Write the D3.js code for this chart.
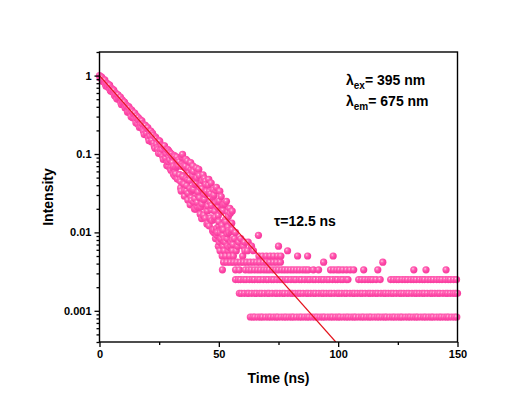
<!DOCTYPE html>
<html><head><meta charset="utf-8">
<script src="https://cdn.jsdelivr.net/npm/d3@7"></script>
<style>
body{margin:0;background:#fff}
svg{display:block}
text{font-family:"Liberation Sans",Arial,sans-serif;font-weight:bold;fill:#000}
</style>
</head><body><svg id="c" width="521" height="401"></svg>
<script>
// ---------- data ----------
const xTicks = [0, 50, 100, 150];
const xMinorTicks = [25, 75, 125];
const yTicks = [1, 0.1, 0.01, 0.001];
const yTickLabels = ["1", "0.1", "0.01", "0.001"];
const xTitle = "Time (ns)";
const yTitle = "Intensity";
const tauText = "\u03C4=12.5 ns";

// decay part (ns, normalized intensity)
const decayTime = [0,0.5,1,1.5,2,2.5,3,3.5,4,4.5,5,5.5,6,6.5,7,7.5,8,8.5,9,9.5,10,10.5,11,11.5,12,12.5,13,13.5,14,14.5,15,15.5,16,16.5,17,17.5,18,18.5,19,19.5,20,20.5,21,21.5,22,22.5,23,23.5,24,24.5,25,25.5,26,26.5,27,27.5,28,28.5,29,29.5,30,30.5,31,31.5,32,32.5,33,33.5,34,34.5,35,35.5,36,36.5,37,37.5,38,38.5,39,39.5,40,40.5,41,41.5,42,42.5,43,43.5,44,44.5,45,45.5,46,46.5,47,47.5,48,48.5,49,49.5,50];
const decayIntensity = [1.000,0.939,0.945,0.847,0.882,0.773,0.796,0.739,0.760,0.651,0.686,0.622,0.648,0.548,0.571,0.568,0.498,0.519,0.444,0.490,0.439,0.457,0.387,0.403,0.345,0.385,0.338,0.364,0.291,0.321,0.281,0.306,0.242,0.267,0.275,0.220,0.242,0.194,0.234,0.196,0.211,0.161,0.182,0.196,0.150,0.173,0.126,0.164,0.134,0.1145,0.148,0.113,0.128,0.0932,0.126,0.0943,0.1017,0.0776,0.110,0.0842,0.0673,0.0934,0.0697,0.0924,0.0560,0.0693,0.0801,0.0545,0.0445,0.0694,0.0530,0.0414,0.0659,0.0340,0.0473,0.0572,0.0363,0.0277,0.0531,0.0353,0.0269,0.0420,0.0212,0.0580,0.0276,0.0211,0.0360,0.0162,0.0264,0.0450,0.0193,0.0132,0.0330,0.0153,0.0194,0.0107,0.0300,0.0157,0.0112,0.0209,0.0121];

// intermediate channels, early decay
const earlyTime = [0.25,0.75,1.25,1.75,2.25,2.75,3.25,3.75,4.25,4.75,5.25,5.75,6.25,6.75,7.25,7.75,8.25,8.75,9.25,9.75,10.25,10.75,11.25,11.75,12.25,12.75,13.25,13.75,14.25,14.75,15.25,15.75,16.25,16.75,17.25,17.75,18.25,18.75,19.25,19.75,20.25,20.75,21.25,21.75,22.25,22.75,23.25,23.75,24.25,24.75,25.25,25.75,26.25,26.75,27.25,27.75];
const earlyIntensity = [0.936,0.964,0.845,0.870,0.875,0.732,0.789,0.707,0.754,0.631,0.657,0.661,0.566,0.596,0.505,0.570,0.505,0.532,0.425,0.458,0.461,0.386,0.421,0.340,0.402,0.344,0.298,0.348,0.292,0.333,0.251,0.284,0.292,0.218,0.240,0.265,0.202,0.177,0.230,0.184,0.217,0.148,0.170,0.143,0.183,0.138,0.118,0.157,0.120,0.102,0.145,0.101,0.114,0.0852,0.127,0.0883];

// intermediate channels, late decay (two interleaved sets)
const lateTimeA = [28.2,28.6,29.0,29.4,29.8,30.2,30.6,31.0,31.4,31.8,32.2,32.6,33.0,33.4,33.8,34.2,34.6,35.0,35.4,35.8,36.2,36.6,37.0,37.4,37.8,38.2,38.6,39.0,39.4,39.8,40.2,40.6,41.0,41.4,41.8,42.2,42.6,43.0,43.4,43.8,44.2,44.6,45.0,45.4,45.8,46.2,46.6,47.0,47.4,47.8,48.2,48.6,49.0,49.4,49.8,50.2,50.6,51.0,51.4,51.8,52.2,52.6,53.0,53.4,53.8,54.2,54.6,55.0,55.4,55.8];
const lateIntensityA = [0.0713,0.114,0.0786,0.105,0.0645,0.100,0.0779,0.0552,0.0957,0.0589,0.0875,0.0479,0.0714,0.0795,0.0468,0.0337,0.0911,0.0517,0.0707,0.0342,0.0856,0.0396,0.0259,0.0663,0.0462,0.0777,0.0255,0.0354,0.0599,0.0199,0.0441,0.0661,0.0241,0.0328,0.0530,0.0171,0.0397,0.0231,0.0544,0.0166,0.0306,0.0409,0.0128,0.0217,0.0474,0.0149,0.0312,0.0221,0.0104,0.0349,0.0148,0.0236,0.0376,0.0100,0.0164,0.0252,0.0105,0.0287,0.0123,0.0191,0.00770,0.0231,0.0137,0.00868,0.0182,0.0105,0.0203,0.00677,0.0131,0.00805];
const lateTimeB = [28.4,28.8,29.2,29.6,30.0,30.4,30.8,31.2,31.6,32.0,32.4,32.8,33.2,33.6,34.0,34.4,34.8,35.2,35.6,36.0,36.4,36.8,37.2,37.6,38.0,38.4,38.8,39.2,39.6,40.0,40.4,40.8,41.2,41.6,42.0,42.4,42.8,43.2,43.6,44.0,44.4,44.8,45.2,45.6,46.0,46.4,46.8,47.2,47.6,48.0,48.4,48.8,49.2,49.6,50.0,50.4,50.8,51.2,51.6,52.0,52.4,52.8,53.2,53.6,54.0,54.4,54.8,55.2,55.6,56.0];
const lateIntensityB = [0.113,0.0699,0.0919,0.103,0.0617,0.0923,0.0664,0.0948,0.0519,0.0680,0.0914,0.0479,0.0842,0.0544,0.0369,0.0734,0.0989,0.0419,0.0290,0.0701,0.0490,0.0817,0.0316,0.0534,0.0225,0.0639,0.0337,0.0703,0.0244,0.0408,0.0198,0.0497,0.0303,0.0639,0.0208,0.0370,0.0150,0.0458,0.0260,0.0488,0.0152,0.0334,0.0188,0.0403,0.0121,0.0244,0.0427,0.0142,0.0284,0.0108,0.0187,0.0343,0.0113,0.0246,0.0137,0.0336,0.00826,0.0183,0.0106,0.0226,0.00831,0.0146,0.0249,0.00959,0.0160,0.00645,0.0175,0.0103,0.0187,0.00701];

// background region: discrete count levels and the times where points sit on them
const floorLevels = [0.000833,0.00167,0.0025,0.00333,0.00417,0.005,0.00583,0.00667,0.0075,0.00833,0.00917,0.0100,0.0108,0.0117];
const floorTimes = [
 [63.2,64.3,65.1,66.4,67.5,68.3,69.6,70.8,71.7,72.9,74.0,74.8,76.1,77.3,78.2,79.4,80.5,81.3,82.6,83.8,84.7,85.9,87.0,87.8,89.1,90.3,91.2,92.4,93.5,94.3,95.6,96.8,97.7,98.9,100.0,100.8,102.1,103.3,104.2,105.4,106.5,107.3,108.6,109.8,110.7,111.9,113.0,113.8,115.1,116.3,117.2,118.4,119.5,120.3,121.6,122.8,123.7,124.9,126.0,126.8,128.1,129.3,130.2,131.4,132.5,133.3,134.6,135.8,136.7,137.9,139.0,139.8,141.1,142.3,143.2,144.4,145.5,146.3,147.6,148.8,149.7],
 [58.6,59.5,60.7,61.9,62.6,63.8,65.0,65.9,67.1,68.0,69.2,70.4,71.1,72.3,73.6,74.4,75.5,76.7,77.6,78.9,80.1,80.9,82.0,83.2,84.1,85.3,86.6,87.4,88.5,89.7,90.6,91.9,93.1,93.9,95.0,96.2,97.1,98.3,99.6,100.4,101.5,102.7,103.6,104.9,106.1,106.9,108.0,109.2,110.1,111.3,112.6,113.4,114.5,115.7,116.6,117.9,119.1,119.9,121.0,122.2,123.1,124.3,125.6,126.4,127.5,128.7,129.6,130.9,132.1,132.9,134.0,135.2,136.1,137.3,138.6,139.4,140.5,141.7,142.6,143.9,145.1,145.9,147.0,148.2,149.1,150.0],
 [57.0,58.2,59.1,60.5,61.4,62.8,64.0,64.9,66.3,67.2,68.6,69.9,70.7,72.1,73.0,74.4,75.6,76.5,77.9,78.8,80.2,81.5,82.3,83.7,84.6,86.0,87.3,88.1,89.5,90.4,91.8,93.0,93.9,95.3,96.2,97.6,98.9,99.7,101.1,102.0,103.4,104.1,108.6,109.9,111.2,112.5,113.6,114.5,115.9,117.6,122.0,123.3,124.5,125.4,126.8,128.0,129.1,130.5,131.6,132.7,134.1,135.3,136.2,137.6,138.8,139.9,141.3,142.4,143.5,144.9,146.1,147.0,148.4,149.6],
 [51.5,57.0,58.6,61.1,62.5,63.6,65.0,66.3,67.5,68.9,70.1,71.2,72.6,73.9,75.0,76.4,77.6,78.8,80.1,81.3,82.6,83.8,85.2,86.4,87.5,89.6,91.8,96.8,98.1,99.5,100.6,102.0,103.5,105.0,106.5,110.7,116.6,131.7,136.8,145.2],
 [52.0,53.4,54.9,56.3,57.6,59.0,60.4,61.7,63.1,64.6,65.9,67.2,68.7,70.0,71.4,72.9,74.3,75.8,93.9,118.7],
 [51.4,53.0,54.6,56.1,60.0,66.8,68.3,69.9,71.5,73.0,74.6,76.0,83.0,87.2,97.9],
 [50.5,52.3,54.0,55.8,57.3,60.9,62.0,64.5,78.8],
 [49.8,51.9,53.7,57.9,60.3,63.7,75.0],
 [50.2,52.8,55.2,58.4,60.8,62.3],
 [48.6,51.0,53.5,56.6,59.2],
 [49.2,51.8,66.6],
 [47.9,50.6,54.3,57.0],
 [52.0,55.6],
 [51.2,53.9]
];

// mono-exponential fit (straight on log axis): end points
const fitTime = [0, 99];
const fitIntensity = [1, 0.0004];

// ---------- chart ----------
const svg = d3.select("#c");
const x = d3.scaleLinear().domain([0, 150]).range([99.5, 457.5]);
const y = d3.scaleLog().domain([0.0004, 2]).range([342, 52]);

const defs = svg.append("defs");
const g = defs.append("radialGradient").attr("id", "ball")
  .attr("cx", "0.38").attr("cy", "0.36").attr("r", "0.64");
g.append("stop").attr("offset", "0").attr("stop-color", "#ffd9ee");
g.append("stop").attr("offset", "0.25").attr("stop-color", "#ff70ba");
g.append("stop").attr("offset", "0.6").attr("stop-color", "#ff47a7");
g.append("stop").attr("offset", "1").attr("stop-color", "#f43b9d");
defs.append("clipPath").attr("id", "plot").append("rect")
  .attr("x", x(0)).attr("y", y(2)).attr("width", x(150) - x(0)).attr("height", y(0.0004) - y(2));

// points
const pts = [];
const addSet = (ts, vs) => ts.forEach((t, i) => pts.push([t, vs[i]]));
addSet(decayTime, decayIntensity);
addSet(earlyTime, earlyIntensity);
addSet(lateTimeA, lateIntensityA);
addSet(lateTimeB, lateIntensityB);
floorLevels.forEach((lv, i) => floorTimes[i].forEach(t => pts.push([t, lv])));
pts.sort((a, b) => a[0] - b[0]);

svg.append("g").selectAll("circle").data(pts).join("circle")
  .attr("cx", d => x(d[0])).attr("cy", d => y(d[1])).attr("r", 3.6)
  .attr("fill", "url(#ball)");

// fit line
svg.append("path").attr("clip-path", "url(#plot)")
  .datum(fitTime.map((t, i) => [t, fitIntensity[i]]))
  .attr("d", d3.line().x(d => x(d[0])).y(d => y(d[1])))
  .attr("fill", "none").attr("stroke", "#e3121b").attr("stroke-width", 1.2);

// frame
svg.append("rect").attr("x", x(0)).attr("y", y(2))
  .attr("width", x(150) - x(0)).attr("height", y(0.0004) - y(2))
  .attr("fill", "none").attr("stroke", "#000").attr("stroke-width", 1.4);

// axes
svg.append("g").attr("transform", `translate(0,${y(0.0004)})`)
  .call(d3.axisBottom(x).tickValues(xTicks).tickSize(5).tickPadding(3).tickFormat(d3.format("d")));
svg.append("g").attr("transform", `translate(0,${y(0.0004)})`)
  .call(d3.axisBottom(x).tickValues(xMinorTicks).tickSize(3).tickFormat(""));
svg.append("g").attr("transform", `translate(${x(0)},0)`)
  .call(d3.axisLeft(y).tickValues(yTicks).tickSize(5).tickPadding(3).tickFormat((d, i) => yTickLabels[i]));
const minorY = y.ticks().filter(v => Math.abs(Math.log10(v) - Math.round(Math.log10(v))) > 1e-6);
svg.append("g").attr("transform", `translate(${x(0)},0)`)
  .call(d3.axisLeft(y).tickValues(minorY).tickSize(3).tickFormat(""));
svg.selectAll(".domain").remove();
svg.selectAll(".tick line").attr("stroke", "#000").attr("stroke-width", 1.3);
svg.selectAll(".tick text").style("font-size", "11px").style("font-family", '"Liberation Sans",Arial,sans-serif').style("font-weight", "bold");

// titles
svg.append("text").attr("x", (x(0) + x(150)) / 2).attr("y", 383)
  .attr("text-anchor", "middle").style("font-size", "14px").text(xTitle);
svg.append("text").attr("transform", `translate(53,${(y(2) + y(0.0004)) / 2}) rotate(-90)`)
  .attr("text-anchor", "middle").style("font-size", "14px").text(yTitle);

// annotations
function lam(yy, sub, rest) {
  const t = svg.append("text").attr("x", 346).attr("y", yy).style("font-size", "14px");
  t.append("tspan").text("\u03BB");
  t.append("tspan").attr("dy", 4).style("font-size", "10px").text(sub);
  t.append("tspan").attr("dy", -4).text(rest);
}
lam(85, "ex", "= 395 nm");
lam(106, "em", "= 675 nm");
svg.append("text").attr("x", 274).attr("y", 226).style("font-size", "14px").text(tauText);
</script>
</body></html>
